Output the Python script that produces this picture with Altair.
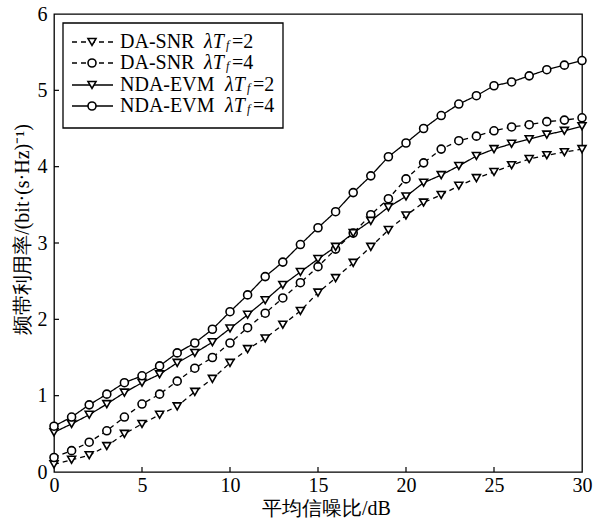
import altair as alt
import pandas as pd

# ---- data ----
snr = list(range(0, 31))
da_snr_2 = [0.10, 0.16, 0.22, 0.34, 0.50, 0.63, 0.75, 0.86, 1.05, 1.22, 1.43, 1.61, 1.75, 1.93, 2.11, 2.35,
            2.54, 2.74, 2.95, 3.17, 3.36, 3.53, 3.63, 3.75, 3.85, 3.93, 4.02, 4.10, 4.15, 4.19, 4.23]
da_snr_4 = [0.19, 0.28, 0.39, 0.54, 0.72, 0.89, 1.02, 1.19, 1.36, 1.50, 1.69, 1.89, 2.08, 2.28, 2.48, 2.69,
            2.92, 3.13, 3.37, 3.58, 3.84, 4.05, 4.23, 4.34, 4.40, 4.47, 4.52, 4.55, 4.59, 4.61, 4.64]
nda_evm_2 = [0.52, 0.63, 0.75, 0.89, 1.04, 1.17, 1.28, 1.43, 1.56, 1.70, 1.88, 2.06, 2.25, 2.45, 2.62, 2.79,
             2.95, 3.13, 3.29, 3.47, 3.61, 3.79, 3.89, 4.01, 4.14, 4.23, 4.30, 4.36, 4.42, 4.47, 4.53]
nda_evm_4 = [0.60, 0.72, 0.88, 1.02, 1.17, 1.26, 1.39, 1.56, 1.69, 1.87, 2.10, 2.32, 2.56, 2.75, 2.98, 3.20,
             3.41, 3.66, 3.88, 4.13, 4.31, 4.50, 4.67, 4.82, 4.93, 5.06, 5.11, 5.19, 5.27, 5.33, 5.39]

series_keys = ["DA-SNR λTf=2", "DA-SNR λTf=4", "NDA-EVM λTf=2", "NDA-EVM λTf=4"]
series_names = ["DA-SNR", "DA-SNR", "NDA-EVM", "NDA-EVM"]
series_params = ["=2", "=4", "=2", "=4"]
series_shapes = ["triangle-down", "circle", "triangle-down", "circle"]
series_dashed = [True, True, False, False]
series_values = [da_snr_2, da_snr_4, nda_evm_2, nda_evm_4]

x_ticks = [0, 5, 10, 15, 20, 25, 30]
y_ticks = [0, 1, 2, 3, 4, 5, 6]
x_title = "平均信噪比/dB"
y_title = "频带利用率/(bit·(s·Hz)⁻¹)"

rows = []
for key, vals in zip(series_keys, series_values):
    for xv, yv in zip(snr, vals):
        rows.append({"snr": xv, "eff": yv, "series": key})
df = pd.DataFrame(rows)

SERIF = "'Liberation Serif', 'Times New Roman', serif"
W, H = 528, 458

xscale = alt.Scale(domain=[0, 30], nice=False, zero=False)
yscale = alt.Scale(domain=[0, 6], nice=False, zero=False)

dash_range = [[5, 4] if d else [1, 0] for d in series_dashed]

base = alt.Chart(df)

lines = base.mark_line(color="black", strokeWidth=1.3).encode(
    x=alt.X("snr:Q", scale=xscale,
            axis=alt.Axis(values=x_ticks, format="d", title=x_title, ticks=False, tickSize=0, domain=False,
                          grid=False, labelFont=SERIF, labelFontSize=20, labelColor="black", labelPadding=3,
                          titleFont=SERIF, titleFontSize=20, titleFontWeight="normal", titleColor="black",
                          titlePadding=3, titleX=272, labelFlush=False)),
    y=alt.Y("eff:Q", scale=yscale,
            axis=alt.Axis(values=y_ticks, format="d", title=y_title, ticks=False, tickSize=0, domain=False,
                          grid=False, labelFont=SERIF, labelFontSize=20, labelColor="black", labelPadding=7,
                          titleFont=SERIF, titleFontSize=20, titleFontWeight="normal", titleColor="black",
                          titleX=-32, titleY=215, titleAngle=270, titleAlign="center",
                          titleBaseline="middle", labelFlush=False)),
    strokeDash=alt.StrokeDash("series:N", scale=alt.Scale(domain=series_keys, range=dash_range), legend=None),
    detail="series:N",
)

points = base.mark_point(filled=False, fill="white", fillOpacity=1, stroke="black", strokeWidth=1.6,
                         size=64, opacity=1).encode(
    x="snr:Q",
    y="eff:Q",
    shape=alt.Shape("series:N", scale=alt.Scale(domain=series_keys, range=series_shapes), legend=None),
)

# inward ticks
xt = alt.Chart(pd.DataFrame({"t": x_ticks[1:-1]})).mark_rule(color="black", strokeWidth=1.2).encode(
    x="t:Q", y=alt.value(H), y2=alt.value(H - 5))
yt = alt.Chart(pd.DataFrame({"t": y_ticks[1:-1]})).mark_rule(color="black", strokeWidth=1.2).encode(
    y="t:Q", x=alt.value(0), x2=alt.value(5))

# custom legend
one = alt.Data(values=[{}])
legend_layers = [
    alt.Chart(one).mark_rect(fill="white", stroke="black", strokeWidth=1.3).encode(
        x=alt.value(9), x2=alt.value(229), y=alt.value(9), y2=alt.value(114))
]
row_y = [28, 49, 71, 92]
for i in range(4):
    yy = row_y[i]
    dash = [5, 4] if series_dashed[i] else [1, 0]
    legend_layers.append(alt.Chart(one).mark_rule(color="black", strokeWidth=1.3, strokeDash=dash).encode(
        x=alt.value(18), x2=alt.value(59), y=alt.value(yy)))
    legend_layers.append(alt.Chart(one).mark_point(filled=False, fill="white", fillOpacity=1, stroke="black",
                                                   strokeWidth=1.6, size=64, shape=series_shapes[i], opacity=1).encode(
        x=alt.value(38), y=alt.value(yy)))
    legend_layers.append(alt.Chart(one).mark_text(text=series_names[i], font=SERIF, fontSize=20, align="left",
                                                  baseline="middle", color="black").encode(
        x=alt.value(66), y=alt.value(yy)))
    lx = 150 if series_names[i] == "DA-SNR" else 171
    legend_layers.append(alt.Chart(one).mark_text(text="λT", font=SERIF, fontSize=20, fontStyle="italic",
                                                  align="left", baseline="middle", color="black").encode(
        x=alt.value(lx), y=alt.value(yy)))
    legend_layers.append(alt.Chart(one).mark_text(text="f", font=SERIF, fontSize=12, fontStyle="italic",
                                                  align="left", baseline="middle", color="black").encode(
        x=alt.value(lx + 22), y=alt.value(yy + 3)))
    legend_layers.append(alt.Chart(one).mark_text(text=series_params[i], font=SERIF, fontSize=20,
                                                  align="left", baseline="middle", color="black").encode(
        x=alt.value(lx + 28), y=alt.value(yy)))

chart = alt.layer(lines, points, xt, yt, *legend_layers).properties(
    width=W, height=H,
    autosize=alt.AutoSizeParams(type="none"),
    padding={"left": 54, "top": 14, "right": 20, "bottom": 46},
    background="white",
).configure_view(stroke="black", strokeWidth=1.3)

chart.save("out.html", embed_options={"renderer": "svg", "actions": False})
